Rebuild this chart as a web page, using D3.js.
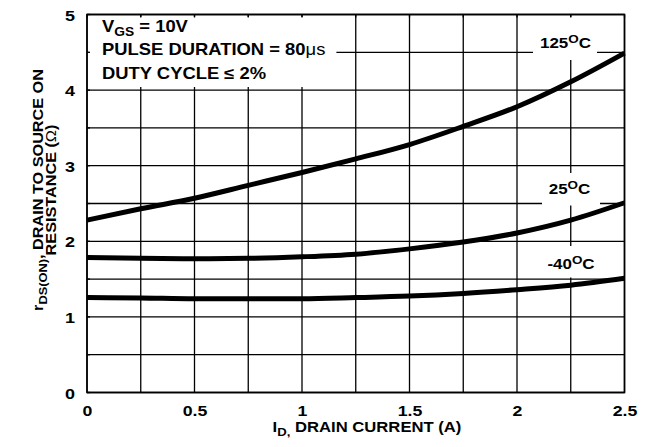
<!DOCTYPE html>
<html>
<head>
<meta charset="utf-8">
<script src="https://cdn.jsdelivr.net/npm/d3@7"></script>
<style>
html,body{margin:0;padding:0;background:#fff;}
svg text{font-family:Arial,"Liberation Sans",Helvetica,sans-serif;font-weight:bold;fill:#000;}
</style>
</head>
<body>
<svg id="chart" width="648" height="447"></svg>
<script>
const current = [0, 0.25, 0.5, 0.75, 1.0, 1.25, 1.5, 1.75, 2.0, 2.25, 2.5];
const r125 = [2.28, 2.43, 2.57, 2.74, 2.91, 3.09, 3.28, 3.52, 3.78, 4.11, 4.49];
const r25 = [1.785, 1.775, 1.77, 1.775, 1.795, 1.83, 1.90, 1.99, 2.11, 2.28, 2.51];
const rm40 = [1.255, 1.25, 1.24, 1.24, 1.24, 1.255, 1.275, 1.31, 1.36, 1.42, 1.51];
const xTickLabels = ["0", "0.5", "1", "1.5", "2", "2.5"];
const yTickLabels = ["0", "1", "2", "3", "4", "5"];
const seriesNames = ["125", "25", "-40"];

const svg = d3.select("#chart");
const x = d3.scaleLinear().domain([0, 2.5]).range([87, 624.5]);
const y = d3.scaleLinear().domain([0, 5]).range([392.5, 14.5]);

const xGrid = d3.range(0, 2.5001, 0.25);
const yGrid = d3.range(0, 5.0001, 0.5);

// horizontally stretched text helper
function stext(parent, px, py, anchor, size, sx, rot) {
  const gg = parent.append("g").attr("transform",
    `translate(${px},${py})` + (rot ? ` rotate(${rot})` : "") + ` scale(${sx},1)`);
  return gg.append("text").attr("x", 0).attr("y", 0)
    .attr("text-anchor", anchor).attr("font-size", size);
}

// gridlines
const g = svg.append("g");
g.selectAll("line.v").data(xGrid).join("line")
  .attr("x1", d => x(d)).attr("x2", d => x(d))
  .attr("y1", y(0)).attr("y2", y(5))
  .attr("stroke", "#000").attr("stroke-width", 1.3);
g.selectAll("line.h").data(yGrid).join("line")
  .attr("y1", d => y(d)).attr("y2", d => y(d))
  .attr("x1", x(0)).attr("x2", x(2.5))
  .attr("stroke", "#000").attr("stroke-width", 1.3);

// curves
const line = d3.line().x((d, i) => x(current[i])).y(d => y(d)).curve(d3.curveMonotoneX);
[r125, r25, rm40].forEach(s => {
  svg.append("path").attr("d", line(s)).attr("fill", "none")
    .attr("stroke", "#000").attr("stroke-width", 5);
});

// white boxes for notes and labels
const boxes = [
  [x(0) + 1.5, 17, x(1.16), 87],
  [533, 17, 597, 60],
  [542, 173, 600, 205.5],
  [541, 246, 600, 277.5]
];
boxes.forEach(b => svg.append("rect").attr("x", b[0]).attr("y", b[1])
  .attr("width", b[2] - b[0]).attr("height", b[3] - b[1]).attr("fill", "#fff"));

// tick stubs inside the frame
const tk = 3;
xGrid.forEach(d => {
  svg.append("line").attr("x1", x(d)).attr("x2", x(d)).attr("y1", y(5)).attr("y2", y(5) + tk).attr("stroke", "#000").attr("stroke-width", 1.3);
});
yGrid.forEach(d => {
  svg.append("line").attr("y1", y(d)).attr("y2", y(d)).attr("x1", x(0)).attr("x2", x(0) + tk).attr("stroke", "#000").attr("stroke-width", 1.3);
});

// frame
svg.append("rect").attr("x", x(0)).attr("y", y(5)).attr("width", x(2.5) - x(0)).attr("height", y(0) - y(5))
  .attr("fill", "none").attr("stroke", "#000").attr("stroke-width", 1.6);

// axes (ticks drawn by the gridlines; labels from the axis generators)
const xAxis = d3.axisBottom(x).tickValues([0, 0.5, 1, 1.5, 2, 2.5])
  .tickFormat((d, i) => xTickLabels[i]).tickSize(0).tickPadding(0);
const xa = svg.append("g").attr("transform", `translate(0,${y(0)})`).call(xAxis);
xa.select(".domain").remove();
xa.selectAll("text").attr("font-size", 15).attr("font-family", null).attr("dy", null).attr("y", 0)
  .attr("transform", "translate(0,23) scale(1.18,1)");

const yAxis = d3.axisLeft(y).tickValues([0, 1, 2, 3, 4, 5])
  .tickFormat((d, i) => yTickLabels[i]).tickSize(0).tickPadding(0);
const ya = svg.append("g").attr("transform", `translate(${x(0)},0)`).call(yAxis);
ya.select(".domain").remove();
ya.selectAll("text").attr("font-size", 15.5).attr("font-family", null).attr("x", 0).attr("dy", "0.36em")
  .attr("transform", "translate(-12,0) scale(1.16,1)");

// note text
const SX = 1.15;
const t1 = stext(svg, 102, 32, "start", 16, SX);
t1.append("tspan").text("V");
t1.append("tspan").attr("font-size", 12).attr("dy", 4).text("GS");
t1.append("tspan").attr("dy", -4).text(" = 10V");
const t2 = stext(svg, 102, 54.5, "start", 16, SX);
t2.append("tspan").text("PULSE DURATION = 80");
t2.append("tspan").attr("font-weight", "normal").text("\u03bcs");
stext(svg, 102, 78.5, "start", 16, SX).text("DUTY CYCLE \u2264 2%");

// curve labels
const labelPos = [[565.5, 48], [569.5, 194], [571, 269]];
seriesNames.forEach((n, i) => {
  const t = stext(svg, labelPos[i][0], labelPos[i][1], "middle", 14.5, 1.17);
  t.append("tspan").text(n);
  t.append("tspan").attr("font-size", 11.5).attr("dy", -5.5).text("O");
  t.append("tspan").attr("dy", 5.5).text("C");
});

// axis titles
const xt = stext(svg, 367, 432, "middle", 14, 1.19);
xt.append("tspan").text("I");
xt.append("tspan").attr("font-size", 11).attr("dy", 4).text("D,");
xt.append("tspan").attr("dy", -4).text(" DRAIN CURRENT (A)");

const y1 = stext(svg, 43, 190, "middle", 14.5, 1.12, -90);
y1.append("tspan").text("r");
y1.append("tspan").attr("font-size", 11.5).attr("dy", 4).text("DS(ON)");
y1.append("tspan").attr("dy", -4).text(", DRAIN TO SOURCE ON");
const y2 = stext(svg, 55.5, 190, "middle", 14.5, 1.12, -90);
y2.append("tspan").text("RESISTANCE (");
y2.append("tspan").attr("font-weight", "normal").text("\u03a9");
y2.append("tspan").text(")");
</script>
</body>
</html>
